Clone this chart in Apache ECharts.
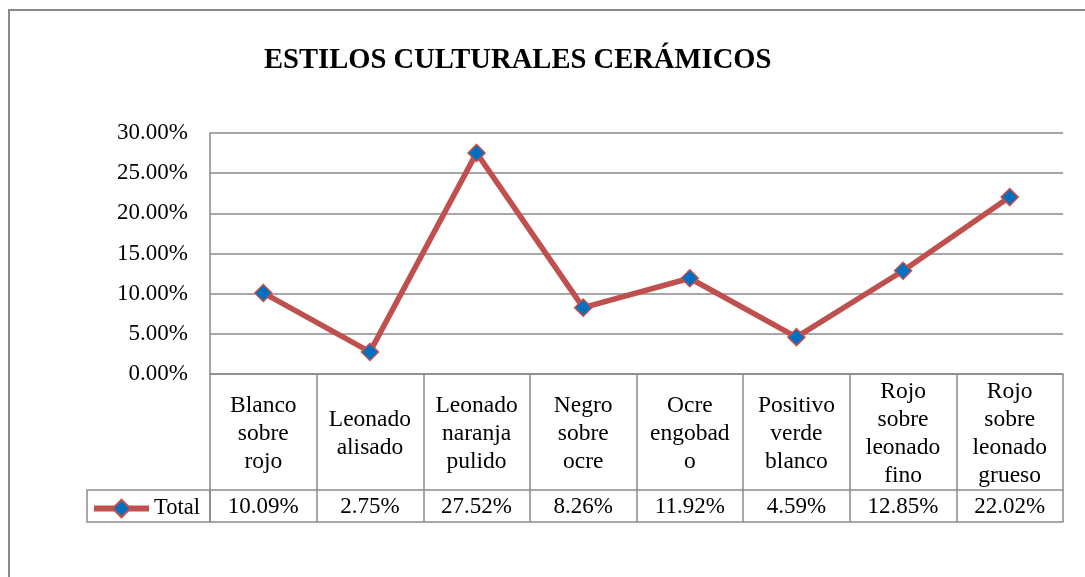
<!DOCTYPE html>
<html>
<head>
<meta charset="utf-8">
<script src="https://cdn.jsdelivr.net/npm/echarts@6/dist/echarts.min.js"></script>
<style>
  html, body { margin: 0; padding: 0; background: #fff; }
  #chart { width: 1085px; height: 577px; }
</style>
</head>
<body>
<div id="chart"></div>
<script>
  // etiquetas de las columnas de la tabla (tal como aparecen partidas)
  var categorias = ['Blanco\nsobre\nrojo', 'Leonado\nalisado', 'Leonado\nnaranja\npulido', 'Negro\nsobre\nocre',
    'Ocre\nengobad\no', 'Positivo\nverde\nblanco', 'Rojo\nsobre\nleonado\nfino', 'Rojo\nsobre\nleonado\ngrueso'];
  var totales = [10.09, 2.75, 27.52, 8.26, 11.92, 4.59, 12.85, 22.02];
  var serie = 'Total';

  var gris = '#8a8a8a';
  var fuente = 'Liberation Serif';
  var rojo = '#C0504D';
  var azul = '#0070C0';

  var myChart = echarts.init(document.getElementById('chart'));

  var option = {
    animation: false,
    title: {
      text: 'ESTILOS CULTURALES CERÁMICOS',
      left: 259,
      top: 41,
      textStyle: { fontFamily: fuente, fontSize: 28.6, fontWeight: 'bold', color: '#000' }
    },
    legend: {
      data: [serie],
      left: 91,
      top: 497,
      padding: 0,
      itemWidth: 55,
      itemHeight: 22,
      itemGap: 6,
      lineStyle: { width: 6 },
      textStyle: { fontFamily: fuente, fontSize: 22.5, color: '#000' }
    },
    grid: { left: 210, right: 22, top: 133, bottom: 203 },
    xAxis: [{
      type: 'category',
      data: categorias,
      boundaryGap: true,
      axisLine: { show: true, lineStyle: { color: gris, width: 1.5 } },
      axisTick: { show: true, interval: 0, length: 148, lineStyle: { color: gris, width: 1.5 } },
      axisLabel: {
        interval: 0,
        margin: 60,
        verticalAlign: 'middle',
        fontFamily: fuente,
        fontSize: 23.5,
        lineHeight: 28,
        color: '#000'
      }
    }, {
      type: 'category',
      data: categorias,
      position: 'bottom',
      offset: 116,
      boundaryGap: true,
      axisLine: { show: true, lineStyle: { color: gris, width: 1.5 } },
      axisTick: { show: false },
      axisLabel: {
        interval: 0,
        margin: 17,
        verticalAlign: 'middle',
        fontFamily: fuente,
        fontSize: 23,
        color: '#000',
        formatter: function (v, i) { return totales[i].toFixed(2) + '%'; }
      }
    }, {
      type: 'category',
      data: categorias,
      position: 'bottom',
      offset: 148,
      axisLine: { show: true, lineStyle: { color: gris, width: 1.5 } },
      axisTick: { show: false },
      axisLabel: { show: false }
    }],
    yAxis: {
      type: 'value',
      min: 0,
      max: 30,
      interval: 5,
      axisLine: { show: true, lineStyle: { color: gris, width: 1.5 } },
      axisTick: { show: false },
      splitLine: { lineStyle: { color: gris, width: 1.5 } },
      axisLabel: {
        margin: 22,
        fontFamily: fuente,
        fontSize: 23,
        color: '#000',
        formatter: function (v) { return v.toFixed(2) + '%'; }
      }
    },
    series: [{
      name: serie,
      type: 'line',
      data: totales,
      symbol: 'diamond',
      symbolSize: 17,
      lineStyle: { color: rojo, width: 5.5 },
      itemStyle: { color: azul, borderColor: rojo, borderWidth: 1.5 },
      emphasis: { disabled: true }
    }],
    graphic: [{
      type: 'rect',
      shape: { x: 9, y: 10, width: 1100, height: 620 },
      style: { fill: null, stroke: gris, lineWidth: 2 },
      silent: true
    }, {
      type: 'rect',
      shape: { x: 87, y: 490, width: 123, height: 32 },
      style: { fill: null, stroke: gris, lineWidth: 1.5 },
      silent: true
    }]
  };

  myChart.setOption(option);
</script>
</body>
</html>
